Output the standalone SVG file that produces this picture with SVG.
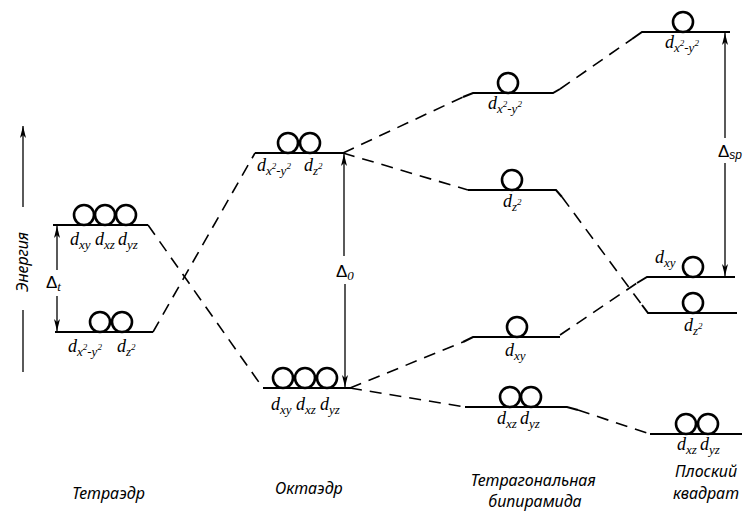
<svg xmlns="http://www.w3.org/2000/svg" width="745" height="511" viewBox="0 0 745 511">
<defs>
<marker id="ah" viewBox="0 0 12 6" refX="12" refY="3" markerWidth="12" markerHeight="6" markerUnits="userSpaceOnUse" orient="auto">
<path d="M0,0 L12,3 L0,6 L3,3 z" fill="#000"/>
</marker>
</defs>
<style>
.lvl{fill:none;stroke:#000;stroke-width:2}
.dash{fill:none;stroke:#000;stroke-width:1.6;stroke-dasharray:12 8}
.orb{fill:#fff;stroke:#000;stroke-width:2.6}
.arr{fill:none;stroke:#000;stroke-width:1.3;marker-end:url(#ah)}
.d{font-family:"Liberation Serif",serif;font-style:italic;font-size:18px;fill:#000}
.sb{font-size:13px}
.sp{font-size:9px}
.cap{font-family:"Noto Sans","Liberation Sans",sans-serif;font-style:italic;font-size:16px;fill:#000}
.del{font-family:"Liberation Sans",sans-serif;font-size:17px;fill:#000}
</style>

<g id="energy-axis">
<line class="arr" x1="23" y1="207" x2="23" y2="126"/>
<text class="cap" transform="translate(28,262) rotate(-90)" text-anchor="middle">Энергия</text>
<line x1="23" y1="310" x2="23" y2="372" stroke="#000" stroke-width="1.3"/>
</g>

<g id="connectors">
<path class="dash" d="M148,225 L263,388"/>
<path class="dash" d="M153,332 L255,153"/>
<path class="dash" d="M343,153 L463,97"/>
<path class="dash" d="M343,153 L468,190"/>
<path class="dash" d="M350,388 L463,342"/>
<path class="dash" d="M350,388 L465,407"/>
<path class="dash" d="M560,89 L632,39"/>
<path class="dash" d="M562,197 L642,305"/>
<path class="dash" d="M560,335 L637,283"/>
<path class="dash" d="M578,410 L650,434"/>
</g>

<g id="tetra-t2">
<path class="lvl" d="M53,225 H148"/>
<circle class="orb" cx="84" cy="215" r="10"/>
<circle class="orb" cx="105" cy="215" r="10"/>
<circle class="orb" cx="126" cy="215" r="10"/>
<text class="d" x="70" y="245">d<tspan class="sb" dy="4">xy</tspan></text>
<text class="d" x="95" y="245">d<tspan class="sb" dy="4">xz</tspan></text>
<text class="d" x="118" y="245">d<tspan class="sb" dy="4">yz</tspan></text>
</g>

<g id="tetra-e">
<path class="lvl" d="M55,332 H153"/>
<circle class="orb" cx="100" cy="322" r="10"/>
<circle class="orb" cx="122" cy="322" r="10"/>
<text class="d" x="68" y="352">d<tspan class="sb" dy="4">x</tspan><tspan class="sp" dy="-6">2</tspan><tspan class="sb" dy="6">-y</tspan><tspan class="sp" dy="-6">2</tspan></text>
<text class="d" x="117" y="352">d<tspan class="sb" dy="4">z</tspan><tspan class="sp" dy="-6">2</tspan></text>
</g>

<g id="delta-t">
<line class="arr" x1="57" y1="270" x2="57" y2="226"/>
<line class="arr" x1="57" y1="296" x2="57" y2="331"/>
<text class="del" x="46" y="288">Δ<tspan font-family="Liberation Serif" font-style="italic" font-size="13" dy="3">t</tspan></text>
</g>

<g id="octa-eg">
<path class="lvl" d="M255,153 H343"/>
<circle class="orb" cx="288" cy="143" r="10"/>
<circle class="orb" cx="310" cy="143" r="10"/>
<text class="d" x="257" y="171">d<tspan class="sb" dy="4">x</tspan><tspan class="sp" dy="-6">2</tspan><tspan class="sb" dy="6">-y</tspan><tspan class="sp" dy="-6">2</tspan></text>
<text class="d" x="304" y="171">d<tspan class="sb" dy="4">z</tspan><tspan class="sp" dy="-6">2</tspan></text>
</g>

<g id="octa-t2g">
<path class="lvl" d="M263,388 H352"/>
<circle class="orb" cx="283" cy="378" r="10"/>
<circle class="orb" cx="305" cy="378" r="10"/>
<circle class="orb" cx="327" cy="378" r="10"/>
<text class="d" x="271" y="410">d<tspan class="sb" dy="4">xy</tspan></text>
<text class="d" x="296" y="410">d<tspan class="sb" dy="4">xz</tspan></text>
<text class="d" x="320" y="410">d<tspan class="sb" dy="4">yz</tspan></text>
</g>

<g id="delta-o">
<line class="arr" x1="344" y1="256" x2="344" y2="154"/>
<line class="arr" x1="345" y1="284" x2="345" y2="387"/>
<text class="del" x="336" y="277">Δ<tspan font-family="Liberation Serif" font-style="italic" font-size="13" dy="3">0</tspan></text>
</g>

<g id="bip-x2y2">
<path class="lvl" d="M463,97 L473,93 H553 L560,89"/>
<circle class="orb" cx="508" cy="83" r="10"/>
<text class="d" x="488" y="109">d<tspan class="sb" dy="4">x</tspan><tspan class="sp" dy="-6">2</tspan><tspan class="sb" dy="6">-y</tspan><tspan class="sp" dy="-6">2</tspan></text>
</g>

<g id="bip-z2">
<path class="lvl" d="M468,190 H556 L562,197"/>
<circle class="orb" cx="512" cy="180" r="10"/>
<text class="d" x="503" y="207">d<tspan class="sb" dy="4">z</tspan><tspan class="sp" dy="-6">2</tspan></text>
</g>

<g id="bip-xy">
<path class="lvl" d="M463,342 L473,337 H560"/>
<circle class="orb" cx="517" cy="327" r="10"/>
<text class="d" x="505" y="356">d<tspan class="sb" dy="4">xy</tspan></text>
</g>

<g id="bip-xzyz">
<path class="lvl" d="M465,407 H567 L578,410"/>
<circle class="orb" cx="510" cy="397" r="10"/>
<circle class="orb" cx="531" cy="397" r="10"/>
<text class="d" x="497" y="424">d<tspan class="sb" dy="4">xz</tspan></text>
<text class="d" x="520" y="424">d<tspan class="sb" dy="4">yz</tspan></text>
</g>

<g id="sq-x2y2">
<path class="lvl" d="M632,39 L642,32 H730"/>
<circle class="orb" cx="683" cy="22" r="10"/>
<text class="d" x="665" y="48">d<tspan class="sb" dy="4">x</tspan><tspan class="sp" dy="-6">2</tspan><tspan class="sb" dy="6">-y</tspan><tspan class="sp" dy="-6">2</tspan></text>
</g>

<g id="delta-sp">
<line class="arr" x1="725" y1="138" x2="725" y2="33"/>
<line class="arr" x1="725" y1="163" x2="725" y2="276"/>
<text class="del" x="718" y="157">Δ<tspan font-family="Liberation Sans" font-style="italic" font-size="12" dy="2">sp</tspan></text>
</g>

<g id="sq-xy">
<path class="lvl" d="M637,283 L647,277 H735"/>
<circle class="orb" cx="693" cy="267" r="10"/>
<text class="d" x="655" y="263">d<tspan class="sb" dy="4">xy</tspan></text>
</g>

<g id="sq-z2">
<path class="lvl" d="M642,305 L648,313 H737"/>
<circle class="orb" cx="693" cy="303" r="10"/>
<text class="d" x="684" y="331">d<tspan class="sb" dy="4">z</tspan><tspan class="sp" dy="-6">2</tspan></text>
</g>

<g id="sq-xzyz">
<path class="lvl" d="M650,434 H742"/>
<circle class="orb" cx="686" cy="424" r="10"/>
<circle class="orb" cx="708" cy="424" r="10"/>
<text class="d" x="677" y="450">d<tspan class="sb" dy="4">xz</tspan></text>
<text class="d" x="700" y="450">d<tspan class="sb" dy="4">yz</tspan></text>
</g>

<g id="captions">
<text class="cap" x="72" y="499">Тетраэдр</text>
<text class="cap" x="275" y="494">Октаэдр</text>
<text class="cap" x="533" y="486" text-anchor="middle" font-size="14.5">Тетрагональная</text>
<text class="cap" x="535" y="507" text-anchor="middle" font-size="14.5">бипирамида</text>
<text class="cap" x="706" y="477" text-anchor="middle">Плоский</text>
<text class="cap" x="706" y="499" text-anchor="middle">квадрат</text>
</g>
</svg>
